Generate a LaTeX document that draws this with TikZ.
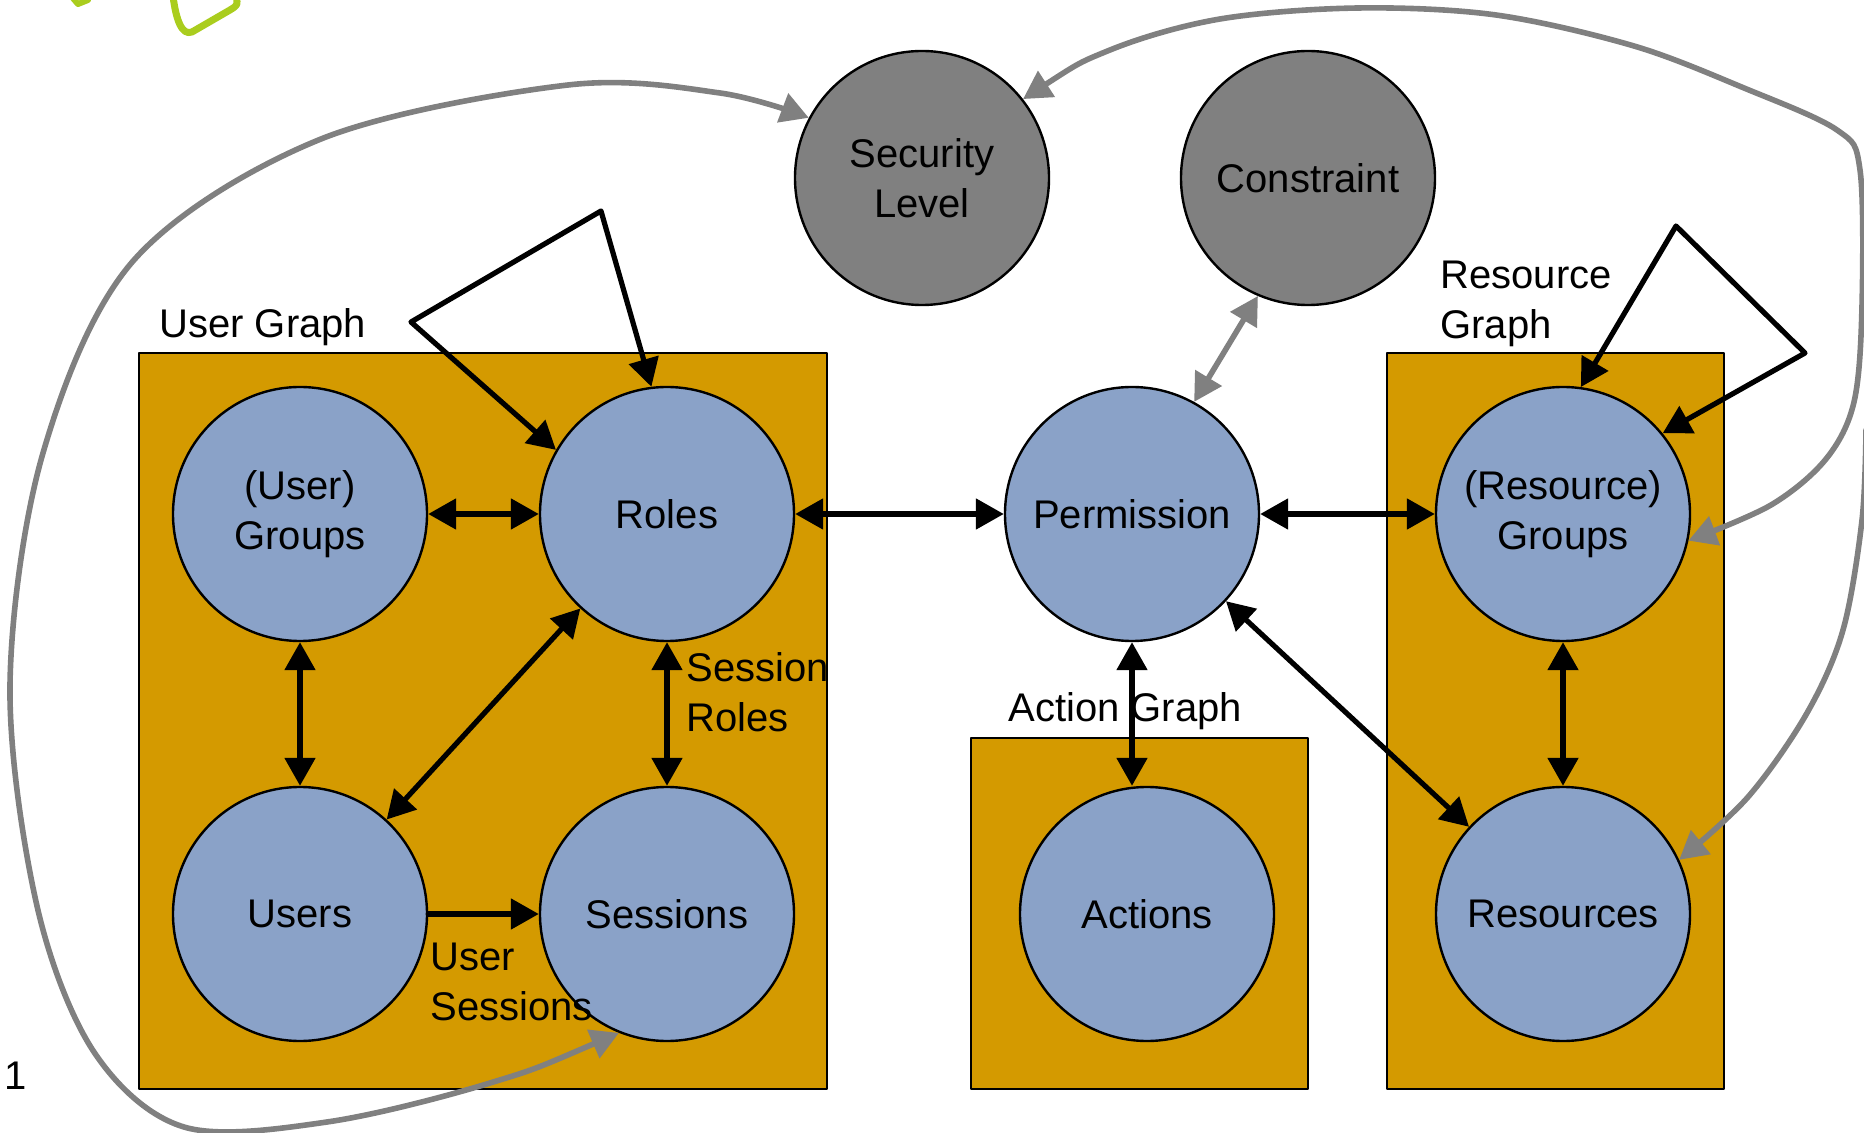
\documentclass[tikz,border=0pt]{standalone}
\usepackage{fontspec}
\setmainfont{Liberation Sans}
\usepackage{tikz}
\usetikzlibrary{graphs}
\usetikzlibrary{arrows.meta}

\definecolor{entblue}{RGB}{138,162,200}
\definecolor{boxgold}{RGB}{212,154,0}
\definecolor{lvlgray}{RGB}{128,128,128}
\definecolor{logogreen}{RGB}{170,205,30}

\begin{document}
\begin{tikzpicture}[line cap=round,line join=round,>={Triangle[length=14pt,width=15pt]},x=0.5pt,y=-0.5pt,
    ent/.style={circle, draw, line width=1.2pt, fill=entblue, minimum size=127pt, inner sep=0pt, align=center, font=\fontsize{20}{25}\selectfont},
    lvl/.style={ent, fill=lvlgray},
    grp/.style={draw, line width=1.1pt, fill=boxgold},
    lbl/.style={anchor=west, inner sep=0pt, align=left, font=\fontsize{20}{25}\selectfont},
    rel/.style={line width=2.6pt},
    grel/.style={line width=2.8pt, draw=lvlgray}]
                    \useasboundingbox (0,0) rectangle (1864,1133);

                    \draw[logogreen, line width=3.5pt] (173,-4) .. controls (176,20) and (182,36) .. (192,32) -- (230,10) .. controls (238,5) .. (236,-4);
                    \draw[logogreen, line width=3pt] (72,-3) -- (78,4) -- (88,0);

                    \draw[grp] (139,353) rectangle (827,1089);
                    \draw[grp] (971,738) rectangle (1308,1089);
                    \draw[grp] (1387,353) rectangle (1724,1089);

                    \node[ent] (ugrp) at (300,514) {(User)\\Groups};
                    \node[ent] (role) at (667,514) {Roles};
                    \node[ent] (user) at (300,914) {Users};
                    \node[ent] (sess) at (667,914) {Sessions};
                    \node[ent] (perm) at (1132,514) {Permission};
                    \node[ent] (act) at (1147,914) {Actions};
                    \node[ent] (rgrp) at (1563,514) {(Resource)\\Groups};
                    \node[ent] (res) at (1563,914) {Resources};
                    \node[lvl] (secl) at (922,178) {Security\\Level};
                    \node[lvl] (cons) at (1308,178) {Constraint};

                    \node[lbl] (uglbl) at (159,327) {User Graph};
                    \node[lbl] (rglbl) at (1440,304) {Resource\\Graph};
                    \node[lbl] (aglbl) at (1008,711) {Action Graph};
                    \node[lbl] (srlbl) at (686,692) {Session\\Roles};
                    \node[lbl] (uslbl) at (430,982) {User\\Sessions};
                    \node[lbl] (pgno) at (4,1076) {1};

                    \graph {
                        (ugrp) <->[rel] (role);
                        (role) <->[rel] (perm);
                        (perm) <->[rel] (rgrp);
                        (ugrp) <->[rel] (user);
                        (role) <->[rel] (user);
                        (role) <->[rel] (sess);
                        (user) ->[rel] (sess);
                        (perm) <->[rel] (res);
                        (rgrp) <->[rel] (res);
                    };

                    \draw[rel,<->] (perm.south) -- (perm.south |- act.north);
                    \draw[rel,<->] (role.150) -- (411,322) -- (601,211) -- (role.97);
                    \draw[rel,<->] (rgrp.82) -- (1676,226) -- (1805,353) -- (rgrp.39);

                    \draw[grel,<->] (cons.247) -- (perm.61);
                    \draw[grel,<->] plot[smooth, tension=0.55] coordinates {(sess.248) (490,1083) (327,1122) (184,1127) (94,1052) (37,906) (10,685) (43,453) (134,260) (321,139) (568,85) (720,93) (secl.152)};
                    \draw[grel,<->] plot[smooth, tension=0.55] coordinates {(secl.38) (1110,50) (1220,19) (1358,8) (1496,15) (1634,46) (1744,88) (1837,130) (1860,170) (1862,306) (1854,402) (1826,459) (1771,505) (rgrp.348)};
                    \coordinate (rsplit) at (1866,430);
                    \draw[grel,->] plot[smooth, tension=0.55] coordinates {(rsplit) (1862,520) (1843,630) (1807,713) (1748,797) (res.25)};
                \end{tikzpicture}
\end{document}
